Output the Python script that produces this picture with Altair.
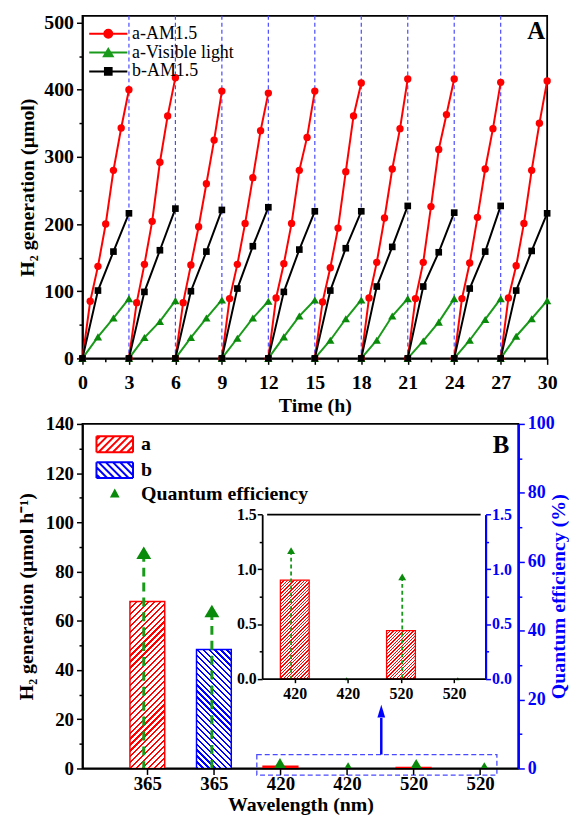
import altair as alt
import pandas as pd

SERIF = "Liberation Serif"

# ---------------- Panel A data ----------------
series_names = ["a-AM1.5", "a-Visible light", "b-AM1.5"]
cycle_starts = [0, 3, 6, 9, 12, 15, 18, 21, 24, 27]
cycle_marks = [3, 6, 9, 12, 15, 18, 21, 24, 27]
red_offsets = [0, 0.5, 1, 1.5, 2, 2.5, 3]
red_values = [
    [0, 85, 137, 200, 280, 343, 400],
    [0, 83, 140, 204, 292, 361, 418],
    [0, 83, 139, 196, 260, 325, 398],
    [0, 89, 140, 201, 269, 339, 395],
    [0, 90, 141, 201, 280, 329, 398],
    [0, 84, 135, 194, 278, 361, 410],
    [0, 90, 143, 209, 282, 342, 416],
    [0, 89, 143, 226, 311, 363, 416],
    [0, 89, 142, 210, 282, 342, 411],
    [0, 90, 138, 201, 280, 350, 413],
]
hour_offsets = [0, 1, 2, 3]
green_values = [
    [0, 32, 60, 89],
    [0, 31, 55, 86],
    [0, 31, 60, 87],
    [0, 30, 60, 85],
    [0, 32, 63, 87],
    [0, 27, 59, 87],
    [0, 27, 63, 89],
    [0, 26, 54, 89],
    [0, 27, 58, 89],
    [0, 33, 59, 86],
]
black_values = [
    [0, 101, 159, 216],
    [0, 99, 161, 223],
    [0, 100, 159, 221],
    [0, 104, 167, 225],
    [0, 99, 162, 219],
    [0, 101, 164, 219],
    [0, 107, 166, 227],
    [0, 107, 158, 217],
    [0, 104, 159, 227],
    [0, 101, 160, 216],
]

# ---------------- Panel B data ----------------
bar_positions = [1, 2, 3, 4, 5, 6]
bar_labels = ["365", "365", "420", "420", "520", "520"]
bar_samples = ["a", "b", "a", "b", "a", "b"]
bar_values = [67.8, 48.3, 0.9, 0.0, 0.44, 0.0]
qe_values = [62.6, 45.7, 1.17, 0.0, 0.93, 0.0]

inset_positions = [1, 2, 3, 4]
inset_labels = ["420", "420", "520", "520"]
inset_samples = ["a", "b", "a", "b"]
inset_bar_values = [0.9, 0.0, 0.44, 0.0]
inset_qe_values = [1.17, 0.0, 0.93, 0.0]

legendB_names = ["a", "b", "Quantum efficiency"]

# annotation (zoom box and arrow) in panel-B data units
zoom_box_x = [2.645, 6.252]
zoom_box_y = [-2.7, 5.65]
arrow_x = [4.515]
arrow_y = [5.65, 20.5]
arrow_head_y = [23.3]

# ---------------- styling ----------------
RED, GREEN_LINE, GREEN_MK, BLACK, BLUE = "#ff0000", "#1a9a1a", "#0a8a0a", "#000000", "#0000ff"
DASH_BLUE = "#4a4aff"
SERIES_COLORS = [RED, GREEN_LINE, BLACK]
SAMPLE_COLORS = {"a": RED, "b": BLUE}

W_A, H_A = 468, 345
W_B, H_B = 439, 347
XB_DOM = [0.1, 6.5]
YB_DOM = [0, 140]
XI_DOM = [0.48, 4.5]
YI_DOM = [0, 1.5]
XI_RANGE = [181, 406]
YI_RANGE = [256.6, 91.3]

TRI = "M0,-0.85L1,0.85L-1,0.85Z"
ARROW_HEAD = "M0,-1L0.6,1L-0.6,1Z"


def tick_size(test, major, minor):
    return {"condition": {"test": test, "value": major}, "value": minor}


def hatch_gradient(w, h, color, direction, period, frac):
    n = max(1, int(round((w + h) / period)))
    d = w * w + h * h
    a = w * (w + h) / d
    b = h * (w + h) / d
    stops = []
    for k in range(n):
        o0 = round(k / n, 5)
        o1 = round((k + frac) / n, 5)
        o2 = round((k + 1) / n, 5)
        stops += [
            {"offset": o0, "color": color},
            {"offset": o1, "color": color},
            {"offset": o1, "color": "#ffffff"},
            {"offset": o2, "color": "#ffffff"},
        ]
    if direction == "/":
        coords = dict(x1=0, y1=0, x2=round(a, 5), y2=round(b, 5))
    else:
        coords = dict(x1=0, y1=1, x2=round(a, 5), y2=round(1 - b, 5))
    return {"gradient": "linear", "stops": stops, **coords}


def hatch_path(direction, hw=2.3, hh=1.0, step=0.9):
    segs = [f"M{-hw},{-hh}H{hw}", f"M{hw},{-hh}V{hh}", f"M{hw},{hh}H{-hw}", f"M{-hw},{hh}V{-hh}"]
    c = -hw - hh + step / 2
    while c < hw + hh:
        x0 = max(-hw, c - hh)
        x1 = min(hw, c + hh)
        if direction == "/":
            segs.append(f"M{x0:.3f},{c - x0:.3f}L{x1:.3f},{c - x1:.3f}")
        else:
            segs.append(f"M{x0:.3f},{x0 - c:.3f}L{x1:.3f},{x1 - c:.3f}")
        c += step
    return "".join(segs)


# ======================= PANEL A =======================
rows = []
for ci, start in enumerate(cycle_starts):
    for off, v in zip(red_offsets, red_values[ci]):
        rows.append({"series": series_names[0], "cycle": ci, "t": start + off, "h2": v})
    for off, v in zip(hour_offsets, green_values[ci]):
        rows.append({"series": series_names[1], "cycle": ci, "t": start + off, "h2": v})
    for off, v in zip(hour_offsets, black_values[ci]):
        rows.append({"series": series_names[2], "cycle": ci, "t": start + off, "h2": v})
dfA = pd.DataFrame(rows)

axisXA = alt.Axis(
    values=[i * 1.5 for i in range(21)],
    labelExpr="datum.value % 3 === 0 ? datum.label : ''",
    tickSize=tick_size("datum.value % 3 === 0", 6, 3.5),
    labelFlush=False, labelOverlap=False, labelPadding=8, titlePadding=3,
    labelFontSize=20, orient="bottom",
)
axisYA = alt.Axis(
    values=[i * 50 for i in range(11)],
    labelExpr="datum.value % 100 === 0 ? datum.label : ''",
    tickSize=tick_size("datum.value % 100 === 0", 6, 3.5),
    labelFlush=False, labelOverlap=False, labelPadding=3, titlePadding=6,
    labelFontSize=20, orient="left",
)
xA = alt.X("t:Q", scale=alt.Scale(domain=[0, 30], nice=False), axis=axisXA, title="Time (h)")
yA = alt.Y("h2:Q", scale=alt.Scale(domain=[0, 510], nice=False), axis=axisYA, title="H₂ generation (μmol)")

vlines = alt.Chart(pd.DataFrame({"t": cycle_marks})).mark_rule(
    color=DASH_BLUE, strokeWidth=1.2, strokeDash=[4, 3]
).encode(x=xA)

layersA = [vlines]
shapesA = [("circle", 55), (TRI, 70), ("square", 45)]
mk_colors = [RED, GREEN_MK, BLACK]
for s, col, mcol, (shp, sz) in zip(series_names, SERIES_COLORS, mk_colors, shapesA):
    sub = dfA[dfA["series"] == s]
    layersA.append(
        alt.Chart(sub).mark_line(color=col, strokeWidth=2).encode(x=xA, y=yA, detail="cycle:N")
    )
    layersA.append(
        alt.Chart(sub).mark_point(filled=True, shape=shp, size=sz, color=mcol, opacity=1).encode(x=xA, y=yA)
    )

legend_paths_A = [
    "M-2.4,0H2.4M-0.5,0A0.5,0.5,0,1,0,0.5,0A0.5,0.5,0,1,0,-0.5,0Z",
    "M-2.4,0H2.4M0,-0.45L0.55,0.45L-0.55,0.45Z",
    "M-2.4,0H2.4M-0.42,-0.42H0.42V0.42H-0.42Z",
]
legA = alt.Legend(
    title=None, orient="none", legendX=17, legendY=9, symbolSize=256, symbolStrokeWidth=2,
    symbolOpacity=1, labelFont=SERIF, labelFontSize=18, labelFontWeight="normal",
    labelColor="black", labelOffset=15, rowPadding=1, padding=0, labelLimit=400,
)
legA_df = pd.DataFrame({"series": series_names, "t": [0, 0, 0], "h2": [0, 0, 0]})
legend_layer_A = alt.Chart(legA_df).mark_point(filled=True, opacity=0).encode(
    x=xA, y=yA,
    fill=alt.Fill("series:N", scale=alt.Scale(domain=series_names, range=SERIES_COLORS), legend=legA),
    stroke=alt.Stroke("series:N", scale=alt.Scale(domain=series_names, range=SERIES_COLORS), legend=legA),
    shape=alt.Shape("series:N", scale=alt.Scale(domain=series_names, range=legend_paths_A), legend=legA),
)
layersA.append(legend_layer_A)

labelA = alt.Chart(pd.DataFrame({"lab": ["A"]})).mark_text(
    font=SERIF, fontWeight="bold", fontSize=25, color="black", align="center", baseline="middle"
).encode(text="lab:N", x=alt.value(457), y=alt.value(15))
layersA.append(labelA)

panelA = alt.layer(*layersA).properties(width=W_A, height=H_A)

# ======================= PANEL B =======================
labels_js = "[''," + ",".join(f"'{l}'" for l in bar_labels) + "]"
axisXB = alt.Axis(
    values=bar_positions, labelExpr=f"{labels_js}[datum.value]", tickSize=6,
    labelFlush=False, labelOverlap=False, labelPadding=0, titlePadding=1,
    labelFontSize=19, orient="bottom", zindex=1,
)
axisYB = alt.Axis(
    values=[i * 10 for i in range(15)],
    labelExpr="datum.value % 20 === 0 ? datum.label : ''",
    tickSize=tick_size("datum.value % 20 === 0", 6, 3.5),
    labelFlush=False, labelOverlap=False, labelPadding=3, titlePadding=9,
    labelFontSize=19, orient="left", zindex=1,
)
scaleXB = alt.Scale(domain=XB_DOM, nice=False)
scaleYB = alt.Scale(domain=YB_DOM, nice=False)


def xB(field):
    return alt.X(f"{field}:Q", scale=scaleXB, axis=axisXB, title="Wavelength (nm)")


def yB(field):
    return alt.Y(f"{field}:Q", scale=scaleYB, axis=axisYB, title="H₂ generation (μmol h⁻¹)")


main_layers = []
for pos, samp, val in zip(bar_positions, bar_samples, bar_values):
    if val <= 0:
        continue
    color = SAMPLE_COLORS[samp]
    h = val * H_B / (YB_DOM[1] - YB_DOM[0])
    fill = hatch_gradient(35, h, color, "/" if samp == "a" else "\\", 6.0, 0.38) if h > 8 else color
    main_layers.append(
        alt.Chart(pd.DataFrame({"pos": [pos], "val": [val]}))
        .mark_bar(size=35, fill=fill, stroke=color, strokeWidth=1.5, orient="vertical")
        .encode(x=xB("pos"), y=yB("val"))
    )

# zoom box + arrow
box_df = pd.DataFrame({"bx0": [zoom_box_x[0]], "bx1": [zoom_box_x[1]], "by0": [zoom_box_y[0]], "by1": [zoom_box_y[1]]})
main_layers.append(
    alt.Chart(box_df).mark_rect(fill="transparent", stroke=DASH_BLUE, strokeWidth=1.3, strokeDash=[5, 3])
    .encode(x=xB("bx0"), x2="bx1:Q", y=yB("by0"), y2="by1:Q")
)
arr_df = pd.DataFrame({"ax": arrow_x, "ay0": [arrow_y[0]], "ay1": [arrow_y[1]], "ah": arrow_head_y})
main_layers.append(
    alt.Chart(arr_df).mark_rule(color=BLUE, strokeWidth=2.5).encode(x=xB("ax"), y=yB("ay0"), y2="ay1:Q")
)
main_layers.append(
    alt.Chart(arr_df).mark_point(shape=ARROW_HEAD, filled=True, size=169, color=BLUE, opacity=1)
    .encode(x=xB("ax"), y=yB("ah"))
)

# legend for panel B
legend_paths_B = [hatch_path("/"), hatch_path("\\"), "M0,-0.42L0.4,0.32L-0.4,0.32Z"]
legB = alt.Legend(
    title=None, orient="none", legendX=22.5, legendY=10.5, symbolSize=256, symbolStrokeWidth=2,
    symbolOpacity=1, labelFont=SERIF, labelFontSize=20, labelFontWeight="bold",
    labelColor="black", labelOffset=16.5, rowPadding=2, padding=0, labelLimit=400,
)
legB_colors = [RED, BLUE, GREEN_MK]
legB_df = pd.DataFrame({"cat": legendB_names, "pos": [1, 1, 1], "val": [0, 0, 0]})
main_layers.append(
    alt.Chart(legB_df).mark_point(filled=True, opacity=0).encode(
        x=xB("pos"), y=yB("val"),
        fill=alt.Fill("cat:N", scale=alt.Scale(domain=legendB_names, range=legB_colors), legend=legB),
        stroke=alt.Stroke("cat:N", scale=alt.Scale(domain=legendB_names, range=legB_colors), legend=legB),
        shape=alt.Shape("cat:N", scale=alt.Scale(domain=legendB_names, range=legend_paths_B), legend=legB),
    )
)
main_layers.append(
    alt.Chart(pd.DataFrame({"lab": ["B"]})).mark_text(
        font=SERIF, fontWeight="bold", fontSize=25, color="black", align="center", baseline="middle"
    ).encode(text="lab:N", x=alt.value(421.5), y=alt.value(21.5))
)
main_group = alt.layer(*main_layers)

# quantum efficiency (right axis)
axisQE = alt.Axis(
    values=[i * 10 for i in range(11)],
    labelExpr="datum.value % 20 === 0 ? datum.label : ''",
    tickSize=tick_size("datum.value % 20 === 0", 6, 3.5),
    labelFlush=False, labelOverlap=False, labelPadding=3, titlePadding=-6,
    labelFontSize=18, orient="right", zindex=2,
    domainColor=BLUE, tickColor=BLUE, labelColor=BLUE, titleColor=BLUE,
    domainWidth=2.2, titleAngle=270, titleBaseline="top",
)
qe_df = pd.DataFrame({"pos": bar_positions, "qe": qe_values, "zero": [0] * len(bar_positions)})
xQE = alt.X("pos:Q", scale=alt.Scale(domain=XB_DOM, nice=False), axis=None)
yQE = alt.Y("qe:Q", scale=alt.Scale(domain=[0, 100], nice=False), axis=axisQE, title="Quantum efficiency (%)")
qe_rules = alt.Chart(qe_df).transform_filter("datum.qe > 0").mark_rule(
    color=GREEN_LINE, strokeWidth=3, strokeDash=[9, 6]
).encode(x=xQE, y=yQE, y2="zero:Q")
qe_tris = alt.Chart(qe_df).mark_point(
    shape=TRI, filled=True, size=225, color=GREEN_MK, opacity=1, clip=True
).encode(x=xQE, y=yQE)
qe_group = alt.layer(qe_rules, qe_tris)

# inset
inset_labels_js = "[''," + ",".join(f"'{l}'" for l in inset_labels) + "]"
axisXI = alt.Axis(
    values=inset_positions, labelExpr=f"{inset_labels_js}[datum.value]", tickSize=4,
    labelFlush=False, labelOverlap=False, labelPadding=3, labelFontSize=16,
    orient="bottom", offset=-(H_B - YI_RANGE[0]), zindex=1,
)
axisYI = alt.Axis(
    values=[i * 0.25 for i in range(7)],
    labelExpr="(datum.value * 2) % 1 === 0 ? format(datum.value, '.1f') : ''",
    tickSize=tick_size("(datum.value * 2) % 1 === 0", 5, 3),
    labelFlush=False, labelOverlap=False, labelPadding=1, labelFontSize=16,
    orient="left", offset=-XI_RANGE[0], zindex=1,
)
axisYI_R = alt.Axis(
    values=[i * 0.25 for i in range(7)],
    labelExpr="(datum.value * 2) % 1 === 0 ? format(datum.value, '.1f') : ''",
    tickSize=tick_size("(datum.value * 2) % 1 === 0", 5, 3),
    labelFlush=False, labelOverlap=False, labelPadding=1, labelFontSize=16,
    orient="right", offset=-(W_B - XI_RANGE[1]), zindex=2,
    domainColor=BLUE, tickColor=BLUE, labelColor=BLUE, domainWidth=2.2,
)
scaleXI = alt.Scale(domain=XI_DOM, range=XI_RANGE, nice=False)
scaleYI = alt.Scale(domain=YI_DOM, range=YI_RANGE, nice=False)


def xI(field):
    return alt.X(f"{field}:Q", scale=scaleXI, axis=axisXI, title=None)


def yI(field):
    return alt.Y(f"{field}:Q", scale=scaleYI, axis=axisYI, title=None)


inset_layers = []
frame_df = pd.DataFrame({"fx0": [XI_DOM[0]], "fx1": [XI_DOM[1]], "fy": [YI_DOM[1]]})
inset_layers.append(
    alt.Chart(frame_df).mark_rule(color="black", strokeWidth=1.8).encode(x=xI("fx0"), x2="fx1:Q", y=yI("fy"))
)
for pos, samp, val in zip(inset_positions, inset_samples, inset_bar_values):
    if val <= 0:
        continue
    color = SAMPLE_COLORS[samp]
    h = val * (YI_RANGE[0] - YI_RANGE[1]) / (YI_DOM[1] - YI_DOM[0])
    fill = hatch_gradient(29, h, color, "/" if samp == "a" else "\\", 3.4, 0.4)
    inset_layers.append(
        alt.Chart(pd.DataFrame({"ipos": [pos], "ival": [val]}))
        .mark_bar(size=29, fill=fill, stroke=color, strokeWidth=1.3, orient="vertical")
        .encode(x=xI("ipos"), y=yI("ival"))
    )
inset_group = alt.layer(*inset_layers)

iqe_df = pd.DataFrame({"ipos": inset_positions, "iqe": inset_qe_values, "zero": [0] * len(inset_positions)})
xIQ = alt.X("ipos:Q", scale=scaleXI, axis=None)
yIQ = alt.Y("iqe:Q", scale=scaleYI, axis=axisYI_R, title=None)
iqe_rules = alt.Chart(iqe_df).transform_filter("datum.iqe > 0").mark_rule(
    color=GREEN_LINE, strokeWidth=1.8, strokeDash=[4, 3]
).encode(x=xIQ, y=yIQ, y2="zero:Q")
iqe_tris = alt.Chart(iqe_df).mark_point(shape=TRI, filled=True, color=GREEN_MK, opacity=1).encode(
    x=xIQ, y=yIQ, size=alt.condition("datum.iqe > 0", alt.value(64), alt.value(14))
)
iqe_group = alt.layer(iqe_rules, iqe_tris)

panelB = (
    alt.layer(main_group, qe_group, inset_group, iqe_group)
    .resolve_scale(x="independent", y="independent")
    .properties(width=W_B, height=H_B)
)

chart = (
    alt.vconcat(panelA, panelB, spacing=-2)
    .resolve_scale(fill="independent", stroke="independent", shape="independent")
    .properties(padding={"left": 7, "top": 0, "right": 0, "bottom": 0})
    .configure_view(stroke="black", strokeWidth=1.8)
    .configure_axis(
        labelFont=SERIF, titleFont=SERIF, labelFontWeight="bold", titleFontWeight="bold",
        titleFontSize=20, grid=False, domainWidth=1.8, tickWidth=1.5,
        labelColor="black", titleColor="black", domainColor="black", tickColor="black",
    )
)

chart.save("out.html", embed_options={"renderer": "svg", "actions": False})
